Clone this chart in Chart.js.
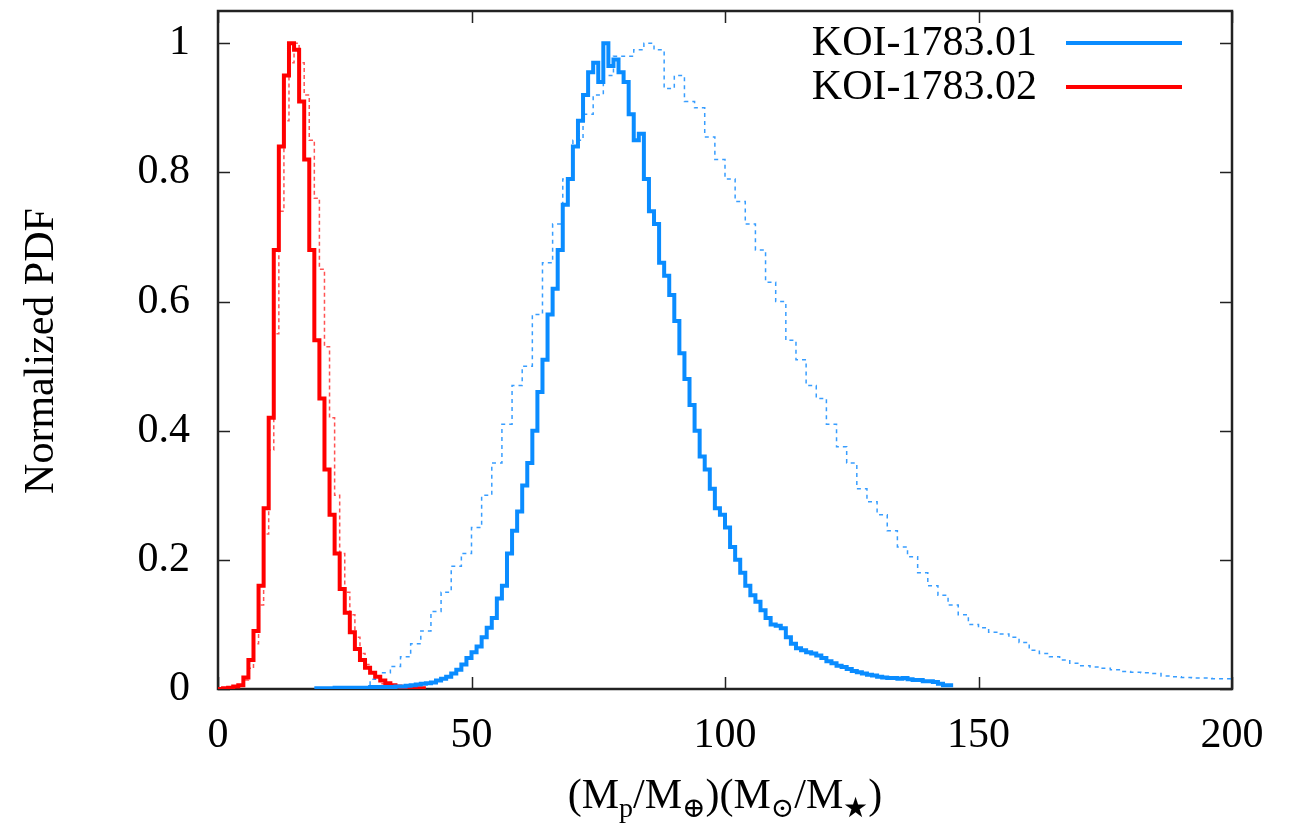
<!DOCTYPE html>
<html>
<head>
<meta charset="utf-8">
<title>KOI-1783 mass PDF</title>
<script src="https://cdn.jsdelivr.net/npm/chart.js@4.4.0/dist/chart.umd.min.js"></script>
<style>
    html, body { margin: 0; padding: 0; background: #fff; }
    #wrap { width: 1304px; height: 828px; position: relative; }
</style>
</head>
<body>
<div id="wrap"><canvas id="pdfChart"></canvas></div>
<script>
// histogram bins: first bin edge, bin width, normalized heights

// KOI-1783.01 (solid blue)
const b01Start = 19;
const b01Width = 1;
const b01Values = [
    0.001, 0.001, 0.001, 0.001, 0.001, 0.002, 0.002, 0.002, 0.002, 0.002,   // 19-28
    0.002, 0.002, 0.003, 0.003, 0.003, 0.003, 0.003, 0.004, 0.004, 0.005,   // 29-38
    0.006, 0.007, 0.008, 0.009, 0.010, 0.013, 0.016, 0.019, 0.024, 0.030,   // 39-48
    0.038, 0.048, 0.057, 0.066, 0.080, 0.095, 0.11, 0.14, 0.16, 0.21,       // 49-58
    0.245, 0.275, 0.315, 0.35, 0.40, 0.46, 0.51, 0.58, 0.62, 0.68,          // 59-68
    0.75, 0.79, 0.84, 0.88, 0.92, 0.955, 0.97, 0.94, 1.0, 0.965,            // 69-78
    0.975, 0.955, 0.94, 0.89, 0.85, 0.86, 0.79, 0.74, 0.72, 0.66,           // 79-88
    0.64, 0.61, 0.57, 0.52, 0.48, 0.44, 0.40, 0.36, 0.34, 0.31,             // 89-98
    0.28, 0.27, 0.25, 0.22, 0.20, 0.18, 0.16, 0.145, 0.135, 0.122,          // 99-108
    0.11, 0.10, 0.098, 0.094, 0.08, 0.07, 0.063, 0.06, 0.057, 0.055,        // 109-118
    0.052, 0.048, 0.043, 0.04, 0.036, 0.034, 0.031, 0.028, 0.026, 0.024,    // 119-128
    0.022, 0.021, 0.019, 0.018, 0.017, 0.017, 0.016, 0.017, 0.015, 0.014,   // 129-138
    0.014, 0.012, 0.012, 0.011, 0.008, 0.006                                // 139-144
];

// KOI-1783.02 (solid red)
const b02Start = 0;
const b02Width = 1;
const b02Values = [
    0, 0, 0.001, 0.002, 0.004, 0.006, 0.018, 0.045, 0.09, 0.16,             // 0-9
    0.28, 0.42, 0.68, 0.84, 0.95, 1.0, 0.99, 0.91, 0.82, 0.68,              // 10-19
    0.54, 0.45, 0.34, 0.27, 0.21, 0.155, 0.118, 0.088, 0.062, 0.045,        // 20-29
    0.033, 0.025, 0.019, 0.013, 0.009, 0.006, 0.004, 0.003, 0.002, 0.002,   // 30-39
    0.001                                                                   // 40
];

// dotted comparison curves
const d01Start = 30;
const d01Width = 2;
const d01Values = [
    0.006, 0.015, 0.025, 0.035, 0.05, 0.07, 0.09, 0.12, 0.15, 0.19,         // 30-48
    0.21, 0.25, 0.30, 0.35, 0.41, 0.47, 0.50, 0.58, 0.66, 0.72,             // 50-68
    0.79, 0.85, 0.89, 0.92, 0.95, 0.98, 0.98, 0.99, 1.0, 0.99,              // 70-88
    0.93, 0.95, 0.91, 0.90, 0.855, 0.82, 0.79, 0.755, 0.72, 0.68,           // 90-108
    0.63, 0.60, 0.54, 0.51, 0.47, 0.45, 0.41, 0.375, 0.35, 0.31,            // 110-128
    0.29, 0.27, 0.245, 0.22, 0.205, 0.18, 0.16, 0.145, 0.13, 0.115,         // 130-148
    0.10, 0.095, 0.088, 0.085, 0.08, 0.072, 0.06, 0.055, 0.05, 0.045,       // 150-168
    0.04, 0.036, 0.034, 0.032, 0.03, 0.027, 0.026, 0.025, 0.024, 0.02,      // 170-188
    0.019, 0.018, 0.017, 0.017, 0.016                                       // 190-198
];

const d02Start = 4;
const d02Width = 1;
const d02Values = [
    0.002, 0.005, 0.014, 0.032, 0.07, 0.13, 0.24, 0.37, 0.55, 0.74,         // 4-13
    0.88, 0.97, 1.0, 0.97, 0.92, 0.85, 0.76, 0.65, 0.53, 0.42,              // 14-23
    0.30, 0.21, 0.15, 0.115, 0.08, 0.055, 0.038, 0.025, 0.015, 0.008,       // 24-33
    0.003                                                                   // 34
];

const xTicks = [0, 50, 100, 150, 200];
const yTicks = [0, 0.2, 0.4, 0.6, 0.8, 1];

const BLUE = '#0a8cff';
const RED = '#ff0000';
const FONT_FAMILY = "'Liberation Serif', 'DejaVu Serif', serif";
const TICK_LEN = 12;

// turn bins into step points (left edges + closing right edge)
function binsToPoints(start, width, values) {
    const pts = values.map((v, i) => ({ x: start + i * width, y: v }));
    pts.push({ x: start + values.length * width, y: values[values.length - 1] });
    return pts;
}

// inward tick marks on all four sides plus the box
const frameTicks = {
    id: 'frameTicks',
    beforeDatasetsDraw(chart) {
        const { ctx, chartArea: a, scales: { x, y } } = chart;
        ctx.save();
        ctx.strokeStyle = '#222';
        ctx.lineWidth = 1.5;
        ctx.beginPath();
        xTicks.forEach(v => {
            const px = Math.round(x.getPixelForValue(v)) + 0.5;
            ctx.moveTo(px, a.bottom); ctx.lineTo(px, a.bottom - TICK_LEN);
            ctx.moveTo(px, a.top); ctx.lineTo(px, a.top + TICK_LEN);
        });
        yTicks.forEach(v => {
            const py = Math.round(y.getPixelForValue(v)) + 0.5;
            ctx.moveTo(a.left, py); ctx.lineTo(a.left + TICK_LEN, py);
            ctx.moveTo(a.right, py); ctx.lineTo(a.right - TICK_LEN, py);
        });
        ctx.stroke();
        ctx.lineWidth = 2.5;
        ctx.strokeRect(a.left, a.top, a.right - a.left, a.bottom - a.top);
        ctx.restore();
    }
};

// gnuplot style key: label then line sample, top right
const keyBox = {
    id: 'keyBox',
    afterDraw(chart) {
        const ctx = chart.ctx;
        ctx.save();
        ctx.font = '42px ' + FONT_FAMILY;
        ctx.textAlign = 'right';
        ctx.textBaseline = 'middle';
        let row = 0;
        chart.data.datasets.forEach(ds => {
            if (!ds.inKey) return;
            const yy = 43 + row * 44;
            ctx.fillStyle = '#000';
            ctx.fillText(ds.label, 1037, yy + 1);
            ctx.strokeStyle = ds.borderColor;
            ctx.lineWidth = 4;
            ctx.beginPath();
            ctx.moveTo(1066, yy);
            ctx.lineTo(1182, yy);
            ctx.stroke();
            row++;
        });
        ctx.restore();
    }
};

// axis titles (x title needs subscripts)
const axisTitles = {
    id: 'axisTitles',
    afterDraw(chart) {
        const { ctx, chartArea: a } = chart;
        ctx.save();
        ctx.fillStyle = '#000';

        // y title
        ctx.font = '42px ' + FONT_FAMILY;
        ctx.textAlign = 'center';
        ctx.textBaseline = 'middle';
        ctx.translate(42, 351);
        ctx.rotate(-Math.PI / 2);
        ctx.fillText('Normalized PDF', 0, 0);
        ctx.setTransform(1, 0, 0, 1, 0, 0);

        // x title
        const parts = [
            ['(M', false], ['p', true], ['/M', false], ['\u2295', true],
            [')(M', false], ['\u2299', true], ['/M', false], ['\u2605', true], [')', false]
        ];
        const big = '42px ' + FONT_FAMILY;
        const small = '28px ' + FONT_FAMILY;
        let total = 0;
        parts.forEach(([t, sub]) => {
            ctx.font = sub ? small : big;
            total += ctx.measureText(t).width;
        });
        let cx = (a.left + a.right) / 2 - total / 2;
        const base = 808;
        ctx.textAlign = 'left';
        ctx.textBaseline = 'alphabetic';
        parts.forEach(([t, sub]) => {
            ctx.font = sub ? small : big;
            ctx.fillText(t, cx, sub ? base + 9 : base);
            cx += ctx.measureText(t).width;
        });
        ctx.restore();
    }
};

Chart.defaults.font.family = FONT_FAMILY;
Chart.defaults.color = '#000';

const ctx = document.getElementById('pdfChart').getContext('2d');
const pdfChart = new Chart(ctx, {
    type: 'line',
    data: {
        datasets: [
            {
                label: 'KOI-1783.01',
                inKey: true,
                data: binsToPoints(b01Start, b01Width, b01Values),
                borderColor: BLUE,
                borderWidth: 4,
                stepped: 'after',
                pointRadius: 0
            },
            {
                label: 'KOI-1783.02',
                inKey: true,
                data: binsToPoints(b02Start, b02Width, b02Values),
                borderColor: RED,
                borderWidth: 4,
                stepped: 'after',
                pointRadius: 0
            },
            {
                label: 'KOI-1783.01 (dotted)',
                data: binsToPoints(d01Start, d01Width, d01Values),
                borderColor: 'rgba(20, 140, 255, 0.85)',
                borderWidth: 1.5,
                borderDash: [4, 4],
                stepped: 'after',
                pointRadius: 0
            },
            {
                label: 'KOI-1783.02 (dotted)',
                data: binsToPoints(d02Start, d02Width, d02Values),
                borderColor: 'rgba(255, 40, 40, 0.8)',
                borderWidth: 1.5,
                borderDash: [4, 3],
                stepped: 'after',
                pointRadius: 0
            }
        ]
    },
    options: {
        responsive: true,
        maintainAspectRatio: false,
        animation: false,
        layout: {
            padding: { left: 0, right: 72, top: 11, bottom: 0 }
        },
        plugins: {
            legend: { display: false },
            tooltip: { enabled: false },
            title: { display: false }
        },
        scales: {
            x: {
                type: 'linear',
                min: 0,
                max: 200,
                afterFit: scale => {
                    scale.height = 139;
                    scale.paddingLeft = 0;
                    scale.paddingRight = 0;
                },
                afterBuildTicks: scale => { scale.ticks = xTicks.map(v => ({ value: v })); },
                grid: { display: false, drawTicks: false },
                border: { display: false },
                ticks: {
                    padding: 22,
                    font: { size: 42 },
                    color: '#000',
                    maxRotation: 0,
                    callback: v => String(v)
                }
            },
            y: {
                type: 'linear',
                min: 0,
                max: 1.05,
                afterFit: scale => {
                    scale.width = 218;
                    scale.paddingTop = 0;
                    scale.paddingBottom = 0;
                },
                afterBuildTicks: scale => { scale.ticks = yTicks.map(v => ({ value: v })); },
                grid: { display: false, drawTicks: false },
                border: { display: false },
                ticks: {
                    padding: 28,
                    font: { size: 42 },
                    color: '#000',
                    callback: v => String(Math.round(v * 10) / 10)
                }
            }
        }
    },
    plugins: [frameTicks, keyBox, axisTitles]
});
</script>
</body>
</html>
